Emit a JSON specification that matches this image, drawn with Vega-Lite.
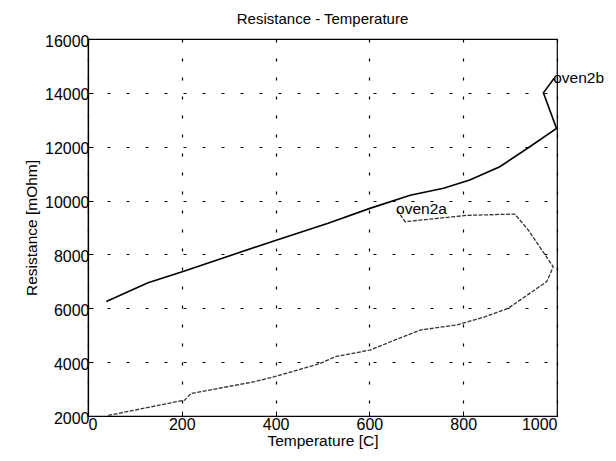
{
  "$schema": "https://vega.github.io/schema/vega-lite/v6.json",
  "width": 469,
  "height": 377,
  "autosize": {"type": "none"},
  "padding": {"left": 88, "top": 39, "right": 59, "bottom": 45},
  "background": "white",
  "config": {
    "font": "Liberation Sans",
    "view": {"stroke": "black", "strokeWidth": 1.2},
    "axis": {
      "domainColor": "black",
      "domainWidth": 1.2,
      "labelColor": "black",
      "labelFontSize": 16,
      "labelFont": "Liberation Sans",
      "titleFont": "Liberation Sans",
      "titleFontSize": 15.5,
      "titleFontWeight": "normal",
      "titleColor": "black",
      "gridColor": "black",
      "gridOpacity": 1,
      "gridWidth": 1.2,
      "gridDash": [3, 16],
      "tickColor": "black",
      "tickSize": -5,
      "format": "d"
    },
    "title": {"font": "Liberation Sans", "fontSize": 15, "fontWeight": "normal", "color": "black", "offset": 6}
  },
  "title": "Resistance - Temperature",
  "datasets": {
    "curves": [
      {"series": "oven2b", "order": 1, "T": 39, "R": 6250},
      {"series": "oven2b", "order": 2, "T": 128, "R": 6950},
      {"series": "oven2b", "order": 3, "T": 201, "R": 7360},
      {"series": "oven2b", "order": 4, "T": 398, "R": 8510},
      {"series": "oven2b", "order": 5, "T": 512, "R": 9155},
      {"series": "oven2b", "order": 6, "T": 601, "R": 9710},
      {"series": "oven2b", "order": 7, "T": 687, "R": 10200},
      {"series": "oven2b", "order": 8, "T": 758, "R": 10455},
      {"series": "oven2b", "order": 9, "T": 814, "R": 10760},
      {"series": "oven2b", "order": 10, "T": 878, "R": 11255},
      {"series": "oven2b", "order": 11, "T": 942, "R": 12000},
      {"series": "oven2b", "order": 12, "T": 999, "R": 12680},
      {"series": "oven2b", "order": 13, "T": 971, "R": 14000},
      {"series": "oven2b", "order": 14, "T": 994, "R": 14540},
      {"series": "oven2a", "order": 1, "T": 43, "R": 2020},
      {"series": "oven2a", "order": 2, "T": 206, "R": 2590},
      {"series": "oven2a", "order": 3, "T": 213, "R": 2720},
      {"series": "oven2a", "order": 4, "T": 220, "R": 2840},
      {"series": "oven2a", "order": 5, "T": 355, "R": 3275},
      {"series": "oven2a", "order": 6, "T": 398, "R": 3460},
      {"series": "oven2a", "order": 7, "T": 495, "R": 3950},
      {"series": "oven2a", "order": 8, "T": 527, "R": 4200},
      {"series": "oven2a", "order": 9, "T": 601, "R": 4450},
      {"series": "oven2a", "order": 10, "T": 708, "R": 5190},
      {"series": "oven2a", "order": 11, "T": 786, "R": 5380},
      {"series": "oven2a", "order": 12, "T": 843, "R": 5665},
      {"series": "oven2a", "order": 13, "T": 896, "R": 6000},
      {"series": "oven2a", "order": 14, "T": 978, "R": 6990},
      {"series": "oven2a", "order": 15, "T": 992, "R": 7540},
      {"series": "oven2a", "order": 16, "T": 939, "R": 8900},
      {"series": "oven2a", "order": 17, "T": 910, "R": 9500},
      {"series": "oven2a", "order": 18, "T": 807, "R": 9450},
      {"series": "oven2a", "order": 19, "T": 676, "R": 9215},
      {"series": "oven2a", "order": 20, "T": 659, "R": 9650}
    ],
    "labels": [
      {"label": "oven2b", "T": 994, "R": 14540},
      {"label": "oven2a", "T": 659, "R": 9700}
    ]
  },
  "layer": [
    {
      "data": {"name": "curves"},
      "transform": [{"filter": "datum.series === 'oven2b'"}],
      "mark": {"type": "line", "color": "black", "strokeWidth": 1.6},
      "encoding": {
        "x": {
          "field": "T", "type": "quantitative",
          "scale": {"domain": [0, 1000], "nice": false},
          "axis": {"title": "Temperature [C]", "values": [0, 200, 400, 600, 800, 1000], "grid": true, "labelPadding": 5, "titlePadding": 1}
        },
        "y": {
          "field": "R", "type": "quantitative",
          "scale": {"domain": [2000, 16000], "nice": false, "zero": false},
          "axis": {"title": "Resistance [mOhm]", "values": [2000, 4000, 6000, 8000, 10000, 12000, 14000, 16000], "grid": true, "labelPadding": 4, "labelOffset": 2, "titlePadding": 5}
        },
        "order": {"field": "order", "type": "quantitative"}
      }
    },
    {
      "data": {"name": "curves"},
      "transform": [{"filter": "datum.series === 'oven2a'"}],
      "mark": {"type": "line", "color": "#333333", "strokeWidth": 1.3, "strokeDash": [4, 1.5]},
      "encoding": {
        "x": {"field": "T", "type": "quantitative"},
        "y": {"field": "R", "type": "quantitative"},
        "order": {"field": "order", "type": "quantitative"}
      }
    },
    {
      "data": {"name": "labels"},
      "mark": {"type": "text", "align": "left", "baseline": "middle", "fontSize": 15.5, "font": "Liberation Sans", "color": "black", "dx": -1, "dy": 0},
      "encoding": {
        "x": {"field": "T", "type": "quantitative"},
        "y": {"field": "R", "type": "quantitative"},
        "text": {"field": "label", "type": "nominal"}
      }
    }
  ]
}
